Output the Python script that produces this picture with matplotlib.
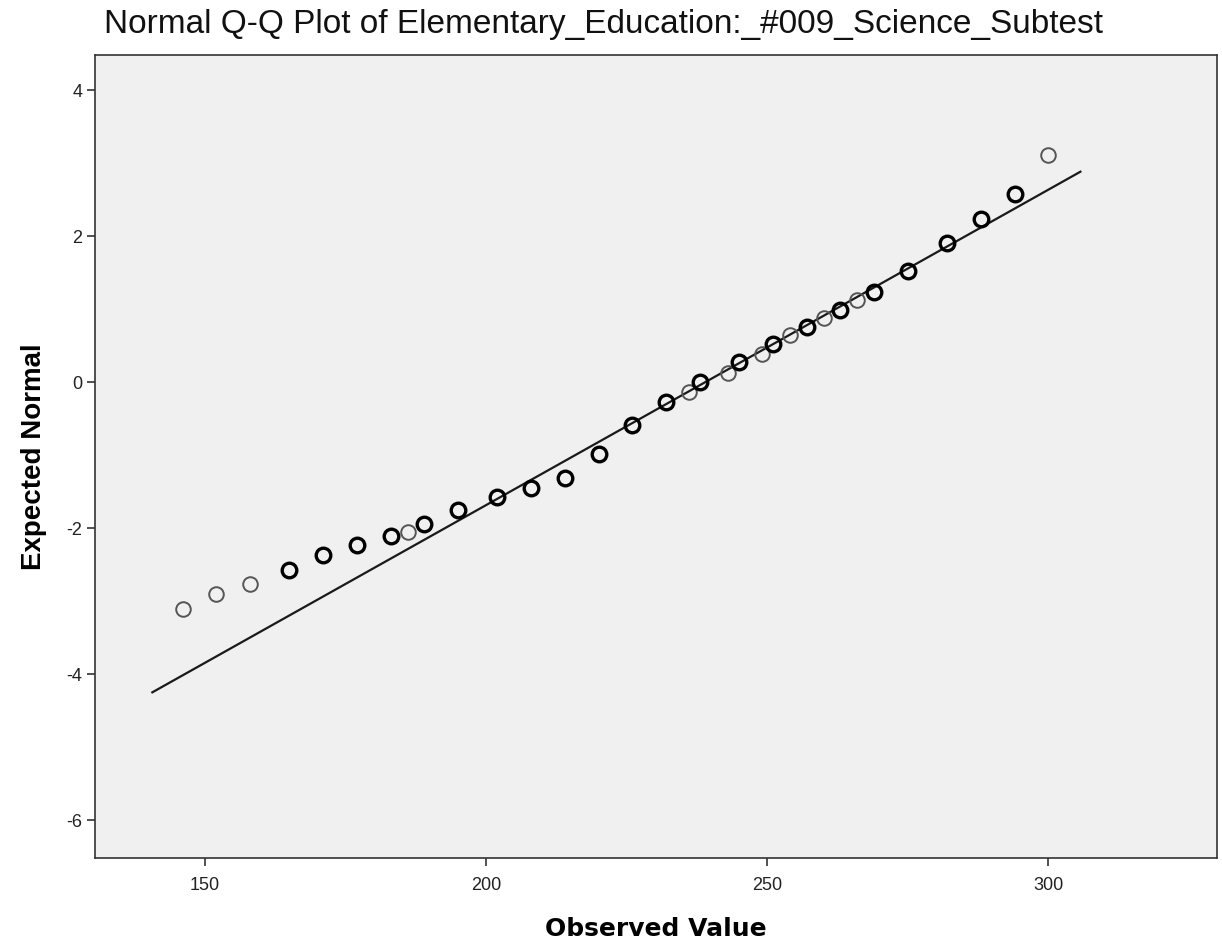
import matplotlib
matplotlib.use("Agg")
import matplotlib.pyplot as plt
import numpy as np

plt.rcParams["axes.unicode_minus"] = False

# Observed values and expected normal quantiles
observed = [146, 152, 158, 165, 171, 177, 183, 186, 189, 195, 202, 208, 214, 220, 226,
            232, 236, 238, 243, 245, 249, 251, 254, 257, 260, 263, 266, 269, 275, 282,
            288, 294, 300]
expected = [-3.11, -2.90, -2.77, -2.58, -2.37, -2.23, -2.11, -2.05, -1.95, -1.75, -1.58,
            -1.45, -1.32, -0.99, -0.59, -0.27, -0.14, 0.0, 0.12, 0.27, 0.38, 0.52, 0.64,
            0.75, 0.88, 0.99, 1.12, 1.23, 1.52, 1.90, 2.24, 2.58, 3.11]
# 1 = bold (repeated value), 0 = single
bold = [0, 0, 0, 1, 1, 1, 1, 0, 1, 1, 1, 1, 1, 1, 1, 1, 0, 1, 0, 1, 0, 1, 0, 1, 0, 1,
        0, 1, 1, 1, 1, 1, 0]

line_mean = 239.0
line_sd = 23.15
line_range = [140.6, 305.7]

x_ticks = [150, 200, 250, 300]
y_ticks = [4, 2, 0, -2, -4, -6]

W, H = 1222, 952
fig = plt.figure(figsize=(W / 100, H / 100), dpi=100)
fig.patch.set_facecolor("white")
left, right, top, bottom = 95, 1217, 55, 858
ax = fig.add_axes([left / W, 1 - bottom / H, (right - left) / W, (bottom - top) / H])
ax.set_facecolor("#F0F0F0")

lx = np.array(line_range)
ax.plot(lx, (lx - line_mean) / line_sd, color="#1a1a1a", lw=1.6, zorder=2)

obs = np.array(observed)
exp_ = np.array(expected)
b = np.array(bold, dtype=bool)
ax.plot(obs[~b], exp_[~b], ls="none", marker="o", ms=10.5, mfc="none",
        mec="#555555", mew=1.4, zorder=3)
ax.plot(obs[b], exp_[b], ls="none", marker="o", ms=10.5, mfc="none",
        mec="#000000", mew=2.4, zorder=4)

ax.set_xlim(130.4, 330.0)
ax.set_ylim(-6.52, 4.48)
ax.set_xticks(x_ticks)
ax.set_yticks(y_ticks)
ax.tick_params(direction="out", length=6, width=1.2, color="#333333",
               labelsize=13, labelcolor="#222222")
ax.tick_params(axis="x", pad=8)
ax.tick_params(axis="y", pad=3)
for lab in ax.get_xticklabels() + ax.get_yticklabels():
    lab.set_family("Liberation Sans")
for s in ax.spines.values():
    s.set_color("#333333")
    s.set_linewidth(1.2)

ax.set_xlabel("Observed Value", fontsize=18, fontweight="bold",
              family="DejaVu Sans", labelpad=16)
ax.set_ylabel("Expected Normal", fontsize=20, fontweight="bold",
              family="Liberation Sans", labelpad=14)
fig.text(603 / W, 1 - 24 / H, "Normal Q-Q Plot of Elementary_Education:_#009_Science_Subtest",
         ha="center", va="center", fontsize=24, family="Liberation Sans", color="#111111")

fig.savefig("out.png", dpi=100)
